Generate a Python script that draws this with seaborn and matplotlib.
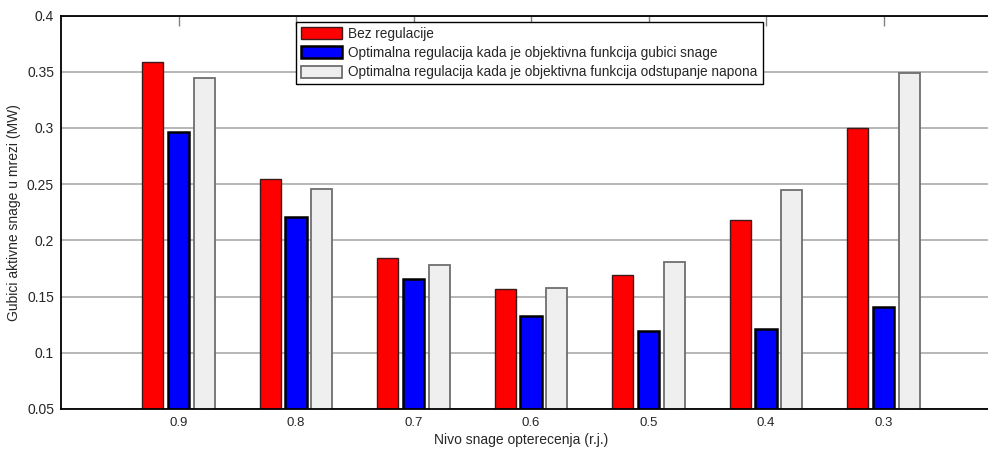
import numpy as np
import pandas as pd
import matplotlib
matplotlib.use("Agg")
import matplotlib.pyplot as plt
import seaborn as sns
from matplotlib.patches import Patch

# data
levels = ["0.9", "0.8", "0.7", "0.6", "0.5", "0.4", "0.3"]
bez_regulacije = [0.359, 0.255, 0.184, 0.157, 0.169, 0.218, 0.300]
gubici_snage = [0.296, 0.221, 0.166, 0.133, 0.119, 0.121, 0.141]
odstupanje_napona = [0.344, 0.246, 0.178, 0.158, 0.181, 0.245, 0.349]
series_names = [
    "Bez regulacije",
    "Optimalna regulacija kada je objektivna funkcija gubici snage",
    "Optimalna regulacija kada je objektivna funkcija odstupanje napona",
]

df = pd.DataFrame({
    "nivo": levels * 3,
    "gubici": bez_regulacije + gubici_snage + odstupanje_napona,
    "serija": np.repeat(series_names, len(levels)),
})

sns.set_style("white")
plt.rcParams["font.family"] = ["Liberation Sans", "DejaVu Sans"]

fills = ["#ff0000", "#0000ff", "#efefef"]
edges = ["#3a1a1a", "#000000", "#6e6e6e"]
edge_w = [1.0, 1.8, 1.3]

fig = plt.figure(figsize=(9.88, 4.51), dpi=100)
ax = fig.add_axes([61 / 988, 42 / 451, 940 / 988, 393.5 / 451])

sns.barplot(data=df, x="nivo", y="gubici", hue="serija", order=levels,
            hue_order=series_names, palette=fills, width=0.66, gap=0.18,
            saturation=1, legend=False, ax=ax)

for cont, ec, lw in zip(ax.containers, edges, edge_w):
    for bar in cont:
        bar.set_edgecolor(ec)
        bar.set_linewidth(lw)

ax.set_xlim(-1, 7)
ax.set_ylim(0.05, 0.4)
ax.set_yticks(np.arange(0.05, 0.401, 0.05))
ax.set_yticklabels(["0.05", "0.1", "0.15", "0.2", "0.25", "0.3", "0.35", "0.4"])
ax.set_axisbelow(True)
ax.yaxis.grid(True, color="#a3a3a3", linewidth=1.1)
ax.xaxis.grid(False)

ax.tick_params(axis="y", direction="in", length=7, width=1, labelsize=10,
               color="black", pad=5)
ax.tick_params(axis="x", bottom=False, top=True, labeltop=False,
               direction="in", length=7, width=1, color="#808080",
               labelsize=9.5, pad=6)

for side in ["left", "bottom", "top"]:
    ax.spines[side].set_color("black")
    ax.spines[side].set_linewidth(1.3)
ax.spines["right"].set_visible(False)

ax.set_xlabel("Nivo snage opterecenja (r.j.)", fontsize=10)
ax.set_ylabel("Gubici aktivne snage u mrezi (MW)", fontsize=10)
ax.xaxis.set_label_coords(0.49, -0.06)
ax.yaxis.set_label_coords(-0.043, 0.5)

handles = [Patch(facecolor=f, edgecolor=e, linewidth=w)
           for f, e, w in zip(fills, edges, edge_w)]
leg = ax.legend(handles, series_names, loc="upper left",
                bbox_to_anchor=(0.25, 0.984), borderaxespad=0,
                fontsize=9.8, frameon=True, fancybox=False, framealpha=1,
                edgecolor="black", handlelength=3.0, handleheight=0.95,
                handletextpad=0.5, labelspacing=0.4, borderpad=0.35)
leg.get_frame().set_linewidth(1.0)

plt.savefig("out.png", dpi=100)
